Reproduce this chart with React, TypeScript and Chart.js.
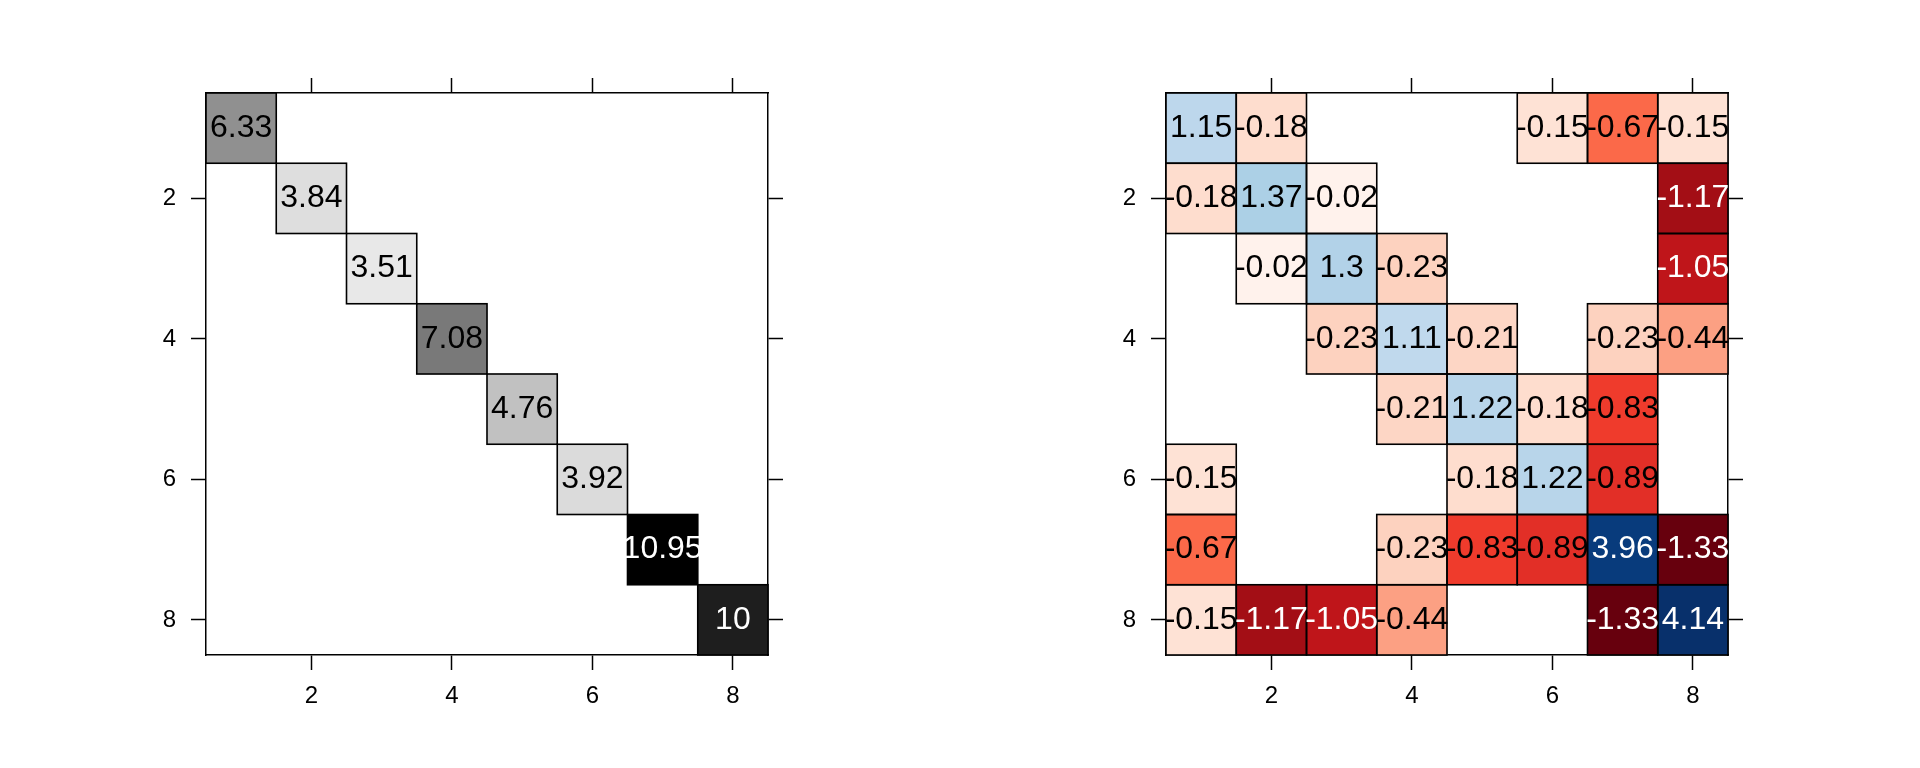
import React, { useEffect, useRef } from 'react';
import { Chart, registerables } from 'chart.js';

Chart.register(...registerables);

// ---------------- data ----------------
const rowIndex = [1, 2, 3, 4, 5, 6, 7, 8];
const colIndex = [1, 2, 3, 4, 5, 6, 7, 8];
const axisTicks = [2, 4, 6, 8];

// left panel: only the diagonal is non-zero
const leftDiagonal = [6.33, 3.84, 3.51, 7.08, 4.76, 3.92, 10.95, 10];

// right panel rows (row 1 at the top)
const rightRow1 = [1.15, -0.18, 0, 0, 0, -0.15, -0.67, -0.15];
const rightRow2 = [-0.18, 1.37, -0.02, 0, 0, 0, 0, -1.17];
const rightRow3 = [0, -0.02, 1.3, -0.23, 0, 0, 0, -1.05];
const rightRow4 = [0, 0, -0.23, 1.11, -0.21, 0, -0.23, -0.44];
const rightRow5 = [0, 0, 0, -0.21, 1.22, -0.18, -0.83, 0];
const rightRow6 = [-0.15, 0, 0, 0, -0.18, 1.22, -0.89, 0];
const rightRow7 = [-0.67, 0, 0, -0.23, -0.83, -0.89, 3.96, -1.33];
const rightRow8 = [-0.15, -1.17, -1.05, -0.44, 0, 0, -1.33, 4.14];

const leftRows = rowIndex.map((_, i) => colIndex.map((__, j) => (i === j ? leftDiagonal[i] : 0)));
const rightRows = [rightRow1, rightRow2, rightRow3, rightRow4, rightRow5, rightRow6, rightRow7, rightRow8];

type Cell = { x: number; y: [number, number]; v: number };

function toCells(rows: number[][]): Cell[] {
  const out: Cell[] = [];
  rows.forEach((row, i) => {
    row.forEach((v, j) => {
      if (v !== 0) {
        const r = rowIndex[i];
        const c = colIndex[j];
        out.push({ x: c, y: [r - 0.5, r + 0.5], v });
      }
    });
  });
  return out;
}

// ---------------- colour scales (style) ----------------
const REDS = ['#fff5f0', '#fee0d2', '#fcbba1', '#fc9272', '#fb6a4a', '#ef3b2c', '#cb181d', '#a50f15', '#67000d'];
const BLUES = ['#f7fbff', '#deebf7', '#c6dbef', '#9ecae1', '#6baed6', '#4292c6', '#2171b5', '#08519c', '#08306b'];
const GREYS = ['#ffffff', '#000000'];
const GREY_WHITE_POINT = 2.77;

function hexToRgb(h: string) {
  const n = parseInt(h.slice(1), 16);
  return [(n >> 16) & 255, (n >> 8) & 255, n & 255];
}

function ramp(stops: string[], t: number): number[] {
  const tt = Math.max(0, Math.min(1, t));
  const pos = tt * (stops.length - 1);
  const i = Math.min(stops.length - 2, Math.floor(pos));
  const f = pos - i;
  const a = hexToRgb(stops[i]);
  const b = hexToRgb(stops[i + 1]);
  return [0, 1, 2].map((k) => Math.round(a[k] + (b[k] - a[k]) * f));
}

const rgbStr = (c: number[]) => `rgb(${c[0]},${c[1]},${c[2]})`;

const leftMax = Math.max(...leftDiagonal);
function leftColor(v: number): number[] {
  return ramp(GREYS, (v - GREY_WHITE_POINT) / (leftMax - GREY_WHITE_POINT));
}

const rightFlat = rightRows.flat();
const rightNegMax = Math.abs(Math.min(...rightFlat));
const rightPosMax = Math.max(...rightFlat);
function rightColor(v: number): number[] {
  return v < 0 ? ramp(REDS, -v / rightNegMax) : ramp(BLUES, v / rightPosMax);
}

function textColorFor(c: number[]) {
  const b = 0.299 * c[0] + 0.587 * c[1] + 0.114 * c[2];
  return b < 85 ? '#ffffff' : '#000000';
}

// ---------------- chart helpers ----------------
const FONT = 'Liberation Sans, Arial, Helvetica, sans-serif';

function axis(position: 'bottom' | 'top' | 'left' | 'right', labels: boolean) {
  const horizontal = position === 'bottom' || position === 'top';
  return {
    type: 'linear',
    position,
    min: 0.5,
    max: 8.5,
    bounds: 'data',
    offset: false,
    beginAtZero: false,
    reverse: !horizontal,
    afterBuildTicks: (s: any) => {
      s.ticks = axisTicks.map((value) => ({ value }));
    },
    afterFit: (s: any) => {
      if (horizontal) s.height = labels ? 60 : 15;
      else s.width = labels ? 60 : 15;
    },
    grid: {
      display: true,
      offset: false,
      drawOnChartArea: false,
      drawTicks: true,
      tickLength: 15,
      tickWidth: 1.5,
      tickColor: '#000000',
    },
    border: { display: true, color: '#000000', width: 1.5 },
    ticks: {
      display: labels,
      padding: horizontal ? 14 : 15,
      color: '#000000',
      autoSkip: false,
      maxRotation: 0,
      minRotation: 0,
      font: { family: FONT, size: 24, lineHeight: 1 },
    },
  };
}

function makeCellPlugin(colorFor: (v: number) => number[]) {
  return {
    id: 'cellDecor',
    afterDatasetsDraw(chart: any) {
      const ctx = chart.ctx;
      const meta = chart.getDatasetMeta(0);
      const data: Cell[] = chart.data.datasets[0].data;
      ctx.save();
      ctx.lineWidth = 1.6;
      ctx.strokeStyle = '#000000';
      meta.data.forEach((el: any) => {
        const { x, y, base, width } = el.getProps(['x', 'y', 'base', 'width'], true);
        const top = Math.min(y, base);
        const h = Math.abs(base - y);
        ctx.strokeRect(x - width / 2, top, width, h);
      });
      ctx.font = `32px ${FONT}`;
      ctx.textAlign = 'center';
      ctx.textBaseline = 'middle';
      meta.data.forEach((el: any, i: number) => {
        const { x, y, base } = el.getProps(['x', 'y', 'base'], true);
        const cy = (y + base) / 2;
        const v = data[i].v;
        ctx.fillStyle = textColorFor(colorFor(v));
        ctx.fillText(String(v), x, cy);
      });
      ctx.restore();
    },
  };
}

function Panel({ rows, colorFor, left }: { rows: number[][]; colorFor: (v: number) => number[]; left: number }) {
  const ref = useRef<HTMLCanvasElement | null>(null);
  useEffect(() => {
    if (!ref.current) return;
    const cells = toCells(rows);
    const chart = new Chart(ref.current, {
      type: 'bar',
      data: {
        datasets: [
          {
            data: cells as any,
            backgroundColor: (c: any) => (c.raw ? rgbStr(colorFor(c.raw.v)) : 'rgba(0,0,0,0)'),
            borderWidth: 0,
            barPercentage: 1,
            categoryPercentage: 1,
            grouped: false,
          } as any,
        ],
      },
      options: {
        responsive: false,
        animation: false,
        events: [],
        layout: { padding: { left: 146, right: 177, top: 78, bottom: 53 } },
        plugins: { legend: { display: false }, tooltip: { enabled: false } },
        scales: {
          x: axis('bottom', true),
          x2: axis('top', false),
          y: axis('left', true),
          y2: axis('right', false),
        } as any,
      },
      plugins: [makeCellPlugin(colorFor)],
    } as any);
    return () => chart.destroy();
  }, [rows, colorFor]);
  return (
    <canvas
      ref={ref}
      width={960}
      height={768}
      style={{ position: 'absolute', left, top: 0, width: 960, height: 768, display: 'block' }}
    />
  );
}

export default function App() {
  return (
    <div style={{ position: 'absolute', left: 0, top: 0, width: 1920, height: 768, background: '#ffffff' }}>
      <Panel rows={leftRows} colorFor={leftColor} left={0} />
      <Panel rows={rightRows} colorFor={rightColor} left={960} />
    </div>
  );
}
